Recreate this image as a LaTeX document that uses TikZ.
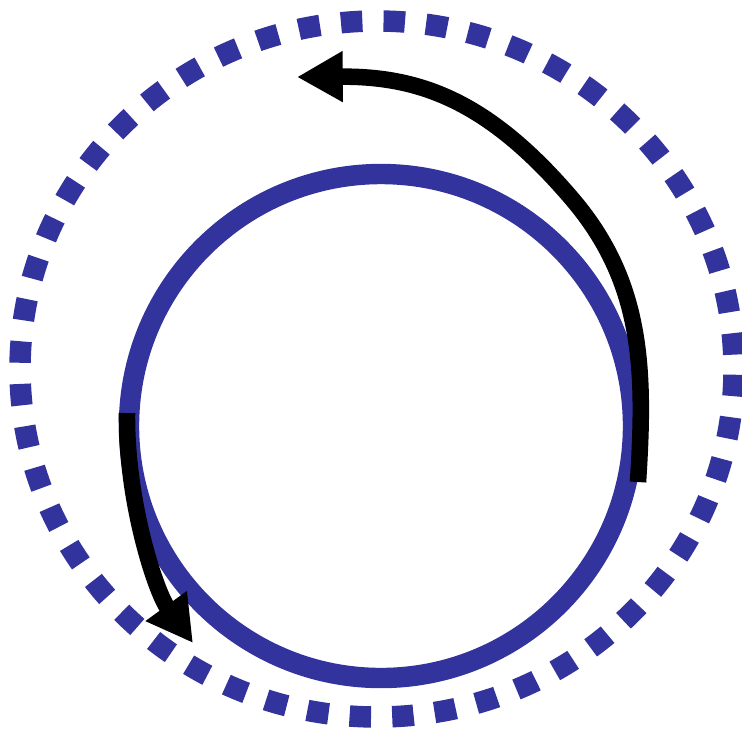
\documentclass[tikz,border=0pt]{standalone}
\usetikzlibrary{arrows.meta}
\definecolor{ringblue}{RGB}{51,51,158}
\tikzset{
  ring/.style={draw=ringblue, line width=5.8pt},
  halo/.style={draw=ringblue, line width=6.1pt, dash pattern=on 6.1pt off 6.02pt, dash phase=10.5pt},
  spin/.style={draw=black, line width=4.7pt, -{Triangle[length=13pt, width=13.6pt]}},
}
\begin{document}
\begin{tikzpicture}[x=0.01cm, y=-0.01cm]
  \useasboundingbox (0,0) rectangle (742,732);
  \coordinate (c0) at (377,369);
  \coordinate (c1) at (381,426);
  % dotted outer ring and solid inner ring
  \draw[halo] (c0) ellipse [x radius=357, y radius=348];
  \draw[ring] (c1) circle [radius=252];
  % rotation arrows
  \coordinate (r0) at (638,482);
  \coordinate (r1) at (573,200);
  \coordinate (rtip) at (297,77);
  \coordinate (l0) at (127,413);
  \coordinate (ltip) at (193,643);
  \draw[spin] (r0) .. controls (645,372) and (644,284) .. (r1)
    .. controls (489,101) and (420,76) .. (rtip);
  \draw[spin] (l0) .. controls (126,502) and (156,592) .. (ltip);
\end{tikzpicture}
\end{document}
